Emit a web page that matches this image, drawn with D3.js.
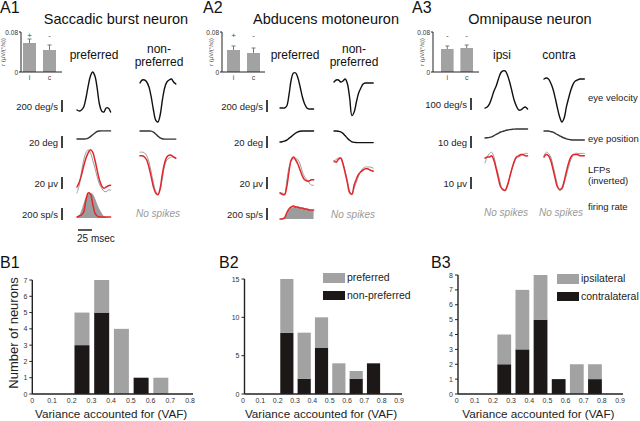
<!DOCTYPE html>
<html><head><meta charset="utf-8">
<script src="https://cdn.jsdelivr.net/npm/d3@7"></script>
<style>body{margin:0;background:#fff} svg{display:block;font-family:"Liberation Sans",Arial,sans-serif}</style>
</head><body><svg id="c" width="640" height="421"></svg>
<script>
// ================= DATA =================
const insetCategories = ["i", "c"];
const insetTickLabels = ["0", "0.08"];
const a1InsetValues = [0.058, 0.044], a1InsetErrors = [0.066, 0.054], a1InsetMarks = ["+", "-"];
const a2InsetValues = [0.044, 0.038], a2InsetErrors = [0.052, 0.048], a2InsetMarks = ["+", "-"];
const a3InsetValues = [0.046, 0.048], a3InsetErrors = [0.052, 0.054], a3InsetMarks = ["-", "-"];

const panelTitles = ["Saccadic burst neuron", "Abducens motoneuron", "Omnipause neuron"];
const a1Heads = [["preferred"], ["non-", "preferred"]];
const a2Heads = [["preferred"], ["non-", "preferred"]];
const a3Heads = [["ipsi"], ["contra"]];
const a1ScaleLabels = ["200 deg/s", "20 deg", "20 μv", "200 sp/s"], a1ScaleValues = [200, 20, 20, 200];
const a2ScaleLabels = ["200 deg/s", "20 deg", "20 μv", "200 sp/s"], a2ScaleValues = [200, 20, 20, 200];
const a3ScaleLabels = ["100 deg/s", "10 deg", "10 μv"], a3ScaleValues = [100, 10, 10];
const rowLabels = [["eye velocity"], ["eye position"], ["LFPs", "(inverted)"], ["firing rate"]];

// time (ms) and traces
const tA1p = [0,4,8,12,16,20,24,28,32,36,40,44,48,52,56,60];
const a1pVel = [17,0,17,67,217,417,583,650,583,383,117,0,-17,50,50,-17];
const a1pPos = [0,0,0,0,0.3,1.5,4,7,10,12.5,13.3,13.5,13.5,13.5,13.5,13.5];
const a1pLfpObs = [-5,8,30,50,62,67,62,50,37,22,10,3,-2,-3,0,0];
const a1pLfpModel = [5,13,25,40,53,62,67,63,50,33,17,7,3,5,7,8];
const a1pRateObs = [17,50,133,250,350,400,417,400,333,233,150,83,33,17,0,0];
const a1pRateModel = [17,33,50,100,300,417,400,233,83,33,17,17,17,17,17,17];

const tA1n = [0,4,8,12,16,20,24,28,32,36,40,44,48,52,56,60,64];
const a1nVel = [0,50,50,17,-67,-233,-450,-617,-650,-533,-283,-83,17,50,67,17,-17];
const a1nPos = [0,0,0,0,0,-0.3,-2,-5,-8.5,-11.5,-13,-13.5,-13.5,-13.5,-13.5,-13.5,-13.5];
const a1nLfpObs = [8,8,7,2,-8,-25,-43,-57,-62,-55,-35,-15,-5,-2,0,0,-2];
const a1nLfpModel = [2,2,0,-5,-17,-33,-50,-60,-63,-52,-28,-10,0,3,3,0,-2];

const tA2p = [0,4,8,12,16,20,24,28,32,36,40,44,48,52,56,60];
const a2pVel = [0,0,0,33,217,467,583,583,500,350,183,67,0,-17,-17,-17];
const a2pPos = [0,0.5,1.5,3,6,9,12,15,17,18,18.3,18.3,18.3,18.3,18.3,18.3];
const a2pLfpObs = [0,0,-2,20,42,53,57,58,55,48,35,27,22,17,13,13];
const a2pLfpModel = [0,-2,-3,10,35,55,60,55,48,38,28,22,20,20,22,22];
const a2pRateObs = [0,17,33,83,150,183,200,200,200,190,183,183,167,167,150,150];
const a2pRateModel = [0,0,17,100,167,200,217,200,200,183,183,167,167,150,150,150];

const tA2n = [0,4,8,12,16,20,24,28,32,36,40,44,48,52,56,60,64,70];
const a2nVel = [0,33,33,0,17,50,-33,-267,-560,-500,-333,-183,-100,-33,-17,-17,-17,-17];
const a2nPos = [0,0,-0.5,-1.5,-4,-8,-12,-15.5,-18,-19,-19.3,-19.3,-19.3,-19.3,-19.3,-19.3,-19.3,-19.3];
const a2nLfpObs = [-2,3,5,5,-3,-17,-33,-50,-57,-45,-35,-25,-17,-12,-10,-10,-10,-12];
const a2nLfpModel = [0,-2,3,5,-5,-20,-37,-53,-55,-40,-30,-22,-18,-15,-13,-13,-15,-17];

const tA3i = [0,4,8,12,16,20,24,28,32,36,40,44,48,52,56,60,64,68,72,76];
const a3iVel = [8,17,42,92,150,192,250,300,317,317,283,225,150,75,25,-8,-8,8,17,0];
const a3iPos = [0,0.2,0.5,1,2,3,4,5,5.5,6.2,6.7,7,7.2,7.4,7.5,7.5,7.5,7.5,7.5,7.5];
const a3iLfpObs = [-5,0,3,4,0,-8,-15,-23,-28,-27,-23,-17,-10,-5,-1,0,1,2,3,3];
const a3iLfpModel = [-1,0,0,1,-3,-10,-18,-25,-27,-28,-24,-17,-10,-4,0,1,2,2,1,1];

const tA3c = [0,4,8,12,16,20,24,28,32,36,40,44,48,52,56,60,64,68,72];
const a3cVel = [0,8,0,-33,-83,-158,-242,-317,-358,-325,-233,-158,-92,-42,-17,-8,0,0,0];
const a3cPos = [0,0,0,-0.5,-1,-2,-3,-4,-5,-5.8,-6.5,-7,-7.3,-7.5,-7.5,-7.5,-7.5,-7.5,-7.5];
const a3cLfpObs = [1,4,3,0,-7,-15,-23,-28,-27,-22,-15,-8,-2,1,3,3,3,3,3];
const a3cLfpModel = [0,2,1,-3,-10,-18,-25,-27,-26,-20,-12,-5,0,2,2,2,1,1,1];

// histograms
const b1Bins = [0,0.1,0.2,0.3,0.4,0.5,0.6,0.7];
const b1NonPreferred = [0,0,3,5,0,1,0,0];
const b1Preferred    = [0,0,2,2,4,0,1,0];
const b1XTicks = [0,0.1,0.2,0.3,0.4,0.5,0.6,0.7,0.8];
const b1YTicks = [0,1,2,3,4,5,6,7];

const b2Bins = [0,0.1,0.2,0.3,0.4,0.5,0.6,0.7,0.8];
const b2NonPreferred = [0,0,8,2,6,0,2,4,0];
const b2Preferred    = [0,0,7,6,4,4,1,0,0];
const b2XTicks = [0,0.1,0.2,0.3,0.4,0.5,0.6,0.7,0.8,0.9];
const b2YTicks = [0,5,10,15];
const b2Legend = ["preferred", "non-preferred"];

const b3Bins = [0,0.1,0.2,0.3,0.4,0.5,0.6,0.7,0.8];
const b3Contralateral = [0,0,2,3,5,1,0,1,0];
const b3Ipsilateral   = [0,0,2,4,3,0,2,1,0];
const b3XTicks = [0,0.1,0.2,0.3,0.4,0.5,0.6,0.7,0.8,0.9];
const b3YTicks = [0,1,2,3,4,5,6,7,8];
const b3Legend = ["ipsilateral", "contralateral"];

const xAxisTitle = "Variance accounted for (VAF)";
const yAxisTitle = "Number of neurons";

// ================= STYLE =================
const svg = d3.select("#c");
const GRAY = "#a2a2a2", BLACK = "#1c1818", RED = "#e2262b", TGRAY = "#9c9c9c", INK = "#222";

function txt(x, y, s, size, opts = {}) {
  const t = svg.append("text").attr("x", x).attr("y", y).text(s)
    .attr("font-size", size).attr("fill", opts.fill || "#111")
    .attr("text-anchor", opts.anchor || "start");
  if (opts.italic) t.attr("font-style", "italic");
  if (opts.rotate) t.attr("transform", `rotate(-90,${x},${y})`);
  return t;
}

// ---------- panel labels / titles ----------
txt(0, 13, "A1", 16); txt(203, 13, "A2", 16); txt(412, 13, "A3", 16);
txt(116, 24, panelTitles[0], 14.5, {anchor: "middle"});
txt(326, 24, panelTitles[1], 14.5, {anchor: "middle"});
txt(530, 24, panelTitles[2], 14.5, {anchor: "middle"});

// ---------- insets ----------
function inset(axisX, band, axisEnd, vals, errs, marks, labelX) {
  const y = d3.scaleLinear().domain([0, 0.08]).range([72, 32]);
  const x = d3.scaleBand().domain(insetCategories).range(band).paddingInner(0.35).paddingOuter(0);
  const g = svg.append("g");
  g.selectAll("rect").data(vals).join("rect")
    .attr("x", (d, i) => x(insetCategories[i])).attr("width", x.bandwidth())
    .attr("y", d => y(d)).attr("height", d => y(0) - y(d)).attr("fill", GRAY);
  errs.forEach((e, i) => {
    const cx = x(insetCategories[i]) + x.bandwidth() / 2;
    g.append("line").attr("x1", cx).attr("x2", cx).attr("y1", y(vals[i])).attr("y2", y(e)).attr("stroke", "#777").attr("stroke-width", 1);
    g.append("line").attr("x1", cx - 2).attr("x2", cx + 2).attr("y1", y(e)).attr("y2", y(e)).attr("stroke", "#777").attr("stroke-width", 1);
    txt(cx, 38, marks[i], 8, {anchor: "middle", fill: "#444"});
    txt(cx, 80, insetCategories[i], 7, {anchor: "middle", fill: "#444"});
  });
  g.append("line").attr("x1", axisX).attr("x2", axisX).attr("y1", y(0)).attr("y2", y(0.08)).attr("stroke", INK).attr("stroke-width", 1);
  g.append("line").attr("x1", axisX).attr("x2", axisEnd).attr("y1", y(0)).attr("y2", y(0)).attr("stroke", INK).attr("stroke-width", 1);
  [0, 0.08].forEach((v, i) => {
    g.append("line").attr("x1", axisX - 2).attr("x2", axisX).attr("y1", y(v)).attr("y2", y(v)).attr("stroke", INK);
    txt(axisX - 3, y(v) + 2.5, insetTickLabels[i], 6.5, {anchor: "end", fill: "#333"});
  });
  txt(labelX, 52, "r (µV/(°/s))", 6, {anchor: "middle", rotate: true, fill: "#444"});
}
inset(21, [23, 56], 62, a1InsetValues, a1InsetErrors, a1InsetMarks, 5);
inset(222, [227, 260], 265, a2InsetValues, a2InsetErrors, a2InsetMarks, 213);
inset(433, [441, 473], 479, a3InsetValues, a3InsetErrors, a3InsetMarks, 424);

// ---------- traces ----------
function tScale(x0) { return d3.scaleLinear().domain([0, 25]).range([x0, x0 + 14]); }
function vScale(y0, barValue) { return d3.scaleLinear().domain([0, barValue]).range([y0, y0 - 12]); }
function trace(times, vals, x0, y0, barValue, color, w) {
  const x = tScale(x0), y = vScale(y0, barValue);
  svg.append("path").datum(vals)
    .attr("d", d3.line().x((d, i) => x(times[i])).y(d => y(d)).curve(d3.curveCatmullRom))
    .attr("fill", "none").attr("stroke", color).attr("stroke-width", w)
    .attr("stroke-linejoin", "round").attr("stroke-linecap", "round");
}
function rateArea(times, vals, x0, y0, barValue) {
  const x = tScale(x0), y = vScale(y0, barValue);
  svg.append("path").datum(vals)
    .attr("d", d3.area().x((d, i) => x(times[i])).y0(y(0)).y1(d => y(d)).curve(d3.curveCatmullRom))
    .attr("fill", TGRAY);
}
function scaleBars(labels, values, barX, bottoms) {
  labels.forEach((l, i) => {
    const y = d3.scaleLinear().domain([0, values[i]]).range([bottoms[i], bottoms[i] - 12]);
    svg.append("line").attr("x1", barX).attr("x2", barX).attr("y1", y(0)).attr("y2", y(values[i]))
      .attr("stroke", "#111").attr("stroke-width", 1.6);
    txt(barX - 4, bottoms[i] - 2.5, l, 9.5, {anchor: "end", fill: "#222"});
  });
}
function heads(lines, cx) {
  if (lines.length === 1) txt(cx, 59, lines[0], 12, {anchor: "middle"});
  else { txt(cx, 53, lines[0], 12, {anchor: "middle"}); txt(cx, 66, lines[1], 12, {anchor: "middle"}); }
}

// A1
heads(a1Heads[0], 94); heads(a1Heads[1], 159);
scaleBars(a1ScaleLabels, a1ScaleValues, 62, [112, 148, 189, 220]);
trace(tA1p, a1pVel, 77, 111, 200, "#111", 1.4);
trace(tA1p, a1pPos, 77, 139, 20, "#333", 1.4);
trace(tA1p, a1pLfpObs, 77, 190, 20, TGRAY, 1);
trace(tA1p, a1pLfpModel, 77, 190, 20, RED, 1.5);
rateArea(tA1p, a1pRateObs, 77, 218, 200);
trace(tA1p, a1pRateModel, 77, 218, 200, RED, 1.5);
trace(tA1n, a1nVel, 140, 83, 200, "#111", 1.4);
trace(tA1n, a1nPos, 140, 131, 20, "#333", 1.4);
trace(tA1n, a1nLfpObs, 140, 157, 20, TGRAY, 1);
trace(tA1n, a1nLfpModel, 140, 157, 20, RED, 1.5);
txt(158, 217, "No spikes", 10, {anchor: "middle", italic: true, fill: "#999"});
{
  const x = tScale(78);
  svg.append("line").attr("x1", x(0)).attr("x2", x(25)).attr("y1", 230).attr("y2", 230).attr("stroke", "#222").attr("stroke-width", 1.5);
  txt(77, 242, "25 msec", 10, {fill: "#222"});
}

// A2
heads(a2Heads[0], 295); heads(a2Heads[1], 354);
scaleBars(a2ScaleLabels, a2ScaleValues, 267, [112, 148, 189, 220]);
trace(tA2p, a2pVel, 280, 108, 200, "#111", 1.4);
trace(tA2p, a2pPos, 280, 142, 20, "#111", 1.4);
trace(tA2p, a2pLfpObs, 280, 193, 20, TGRAY, 1);
trace(tA2p, a2pLfpModel, 280, 193, 20, RED, 1.5);
rateArea(tA2p, a2pRateObs, 280, 219, 200);
trace(tA2p, a2pRateModel, 280, 219, 200, RED, 1.5);
trace(tA2n, a2nVel, 334, 82, 200, "#111", 1.4);
trace(tA2n, a2nPos, 334, 131, 20, "#111", 1.4);
trace(tA2n, a2nLfpObs, 334, 161, 20, TGRAY, 1);
trace(tA2n, a2nLfpModel, 334, 161, 20, RED, 1.5);
txt(353, 218, "No spikes", 10, {anchor: "middle", italic: true, fill: "#999"});

// A3
heads(a3Heads[0], 502); heads(a3Heads[1], 559);
scaleBars(a3ScaleLabels, a3ScaleValues, 471, [110, 148, 189]);
trace(tA3i, a3iVel, 485, 109, 100, "#111", 1.4);
trace(tA3i, a3iPos, 485, 138, 10, "#333", 1.4);
trace(tA3i, a3iLfpObs, 485, 157, 10, TGRAY, 1);
trace(tA3i, a3iLfpModel, 485, 157, 10, RED, 1.5);
trace(tA3c, a3cVel, 544, 79, 100, "#111", 1.4);
trace(tA3c, a3cPos, 544, 131, 10, "#333", 1.4);
trace(tA3c, a3cLfpObs, 544, 157, 10, TGRAY, 1);
trace(tA3c, a3cLfpModel, 544, 157, 10, RED, 1.5);
txt(506, 216, "No spikes", 10, {anchor: "middle", italic: true, fill: "#999"});
txt(561, 216, "No spikes", 10, {anchor: "middle", italic: true, fill: "#999"});
const rowLabelY = [[101], [142], [173, 184], [210]];
rowLabels.forEach((lines, i) => lines.forEach((l, j) => txt(588, rowLabelY[i][j], l, 9.5, {fill: "#222"})));

// ---------- histograms ----------
function hist(cfg) {
  const x = d3.scaleLinear().domain([0, cfg.xmax]).range(cfg.xr);
  const y = d3.scaleLinear().domain([0, cfg.ymax]).range([394, cfg.ytop]);
  const rows = cfg.bins.map((b, i) => ({bin: b, dark: cfg.dark[i], light: cfg.light[i]}));
  const stacked = d3.stack().keys(["dark", "light"])(rows);
  const colors = {dark: BLACK, light: GRAY};
  const g = svg.append("g");
  stacked.forEach(s => {
    g.selectAll(null).data(s).join("rect")
      .attr("x", d => x(d.data.bin + cfg.off)).attr("width", x(0.076) - x(0))
      .attr("y", d => y(d[1])).attr("height", d => y(d[0]) - y(d[1]))
      .attr("fill", colors[s.key]);
  });
  const ax = cfg.axisX;
  g.append("line").attr("x1", ax).attr("x2", ax).attr("y1", y(0)).attr("y2", y(cfg.ymax)).attr("stroke", INK).attr("stroke-width", 1.4);
  g.append("line").attr("x1", ax).attr("x2", x(cfg.xmax) + 3).attr("y1", y(0)).attr("y2", y(0)).attr("stroke", INK).attr("stroke-width", 1.4);
  cfg.yticks.forEach(v => {
    g.append("line").attr("x1", ax - 3).attr("x2", ax).attr("y1", y(v)).attr("y2", y(v)).attr("stroke", INK);
    txt(ax - 5, y(v) + 2.5, String(v), 7, {anchor: "end", fill: "#333"});
  });
  cfg.xticks.forEach(v => txt(x(v), 403, String(v), 7, {anchor: "middle", fill: "#333"}));
  txt((x(0) + x(cfg.xmax)) / 2, 418, xAxisTitle, 11.7, {anchor: "middle", fill: "#222"});
  if (cfg.legend) {
    const lx = cfg.legendX;
    g.append("rect").attr("x", lx).attr("y", cfg.legendY).attr("width", 22).attr("height", 10).attr("fill", GRAY);
    g.append("rect").attr("x", lx).attr("y", cfg.legendY + 18).attr("width", 22).attr("height", 9).attr("fill", BLACK);
    txt(lx + 24, cfg.legendY + 8, cfg.legend[0], 10.5, {fill: "#222"});
    txt(lx + 24, cfg.legendY + 26, cfg.legend[1], 10.5, {fill: "#222"});
  }
}
txt(0, 268, "B1", 16); txt(219, 268, "B2", 16); txt(431, 268, "B3", 16);
txt(18, 333, yAxisTitle, 13, {anchor: "middle", rotate: true, fill: "#222"});
hist({bins: b1Bins, dark: b1NonPreferred, light: b1Preferred, xmax: 0.8, xr: [32.3, 190], ymax: 7, ytop: 280,
      axisX: 32.3, off: 0.014, xticks: b1XTicks, yticks: b1YTicks});
hist({bins: b2Bins, dark: b2NonPreferred, light: b2Preferred, xmax: 0.9, xr: [243, 399], ymax: 15, ytop: 279,
      axisX: 244.5, off: 0.015, xticks: b2XTicks, yticks: b2YTicks, legend: b2Legend, legendX: 323, legendY: 273});
hist({bins: b3Bins, dark: b3Contralateral, light: b3Ipsilateral, xmax: 0.9, xr: [456.7, 620], ymax: 8, ytop: 275,
      axisX: 458, off: 0.024, xticks: b3XTicks, yticks: b3YTicks, legend: b3Legend, legendX: 557, legendY: 274});
</script></body></html>
